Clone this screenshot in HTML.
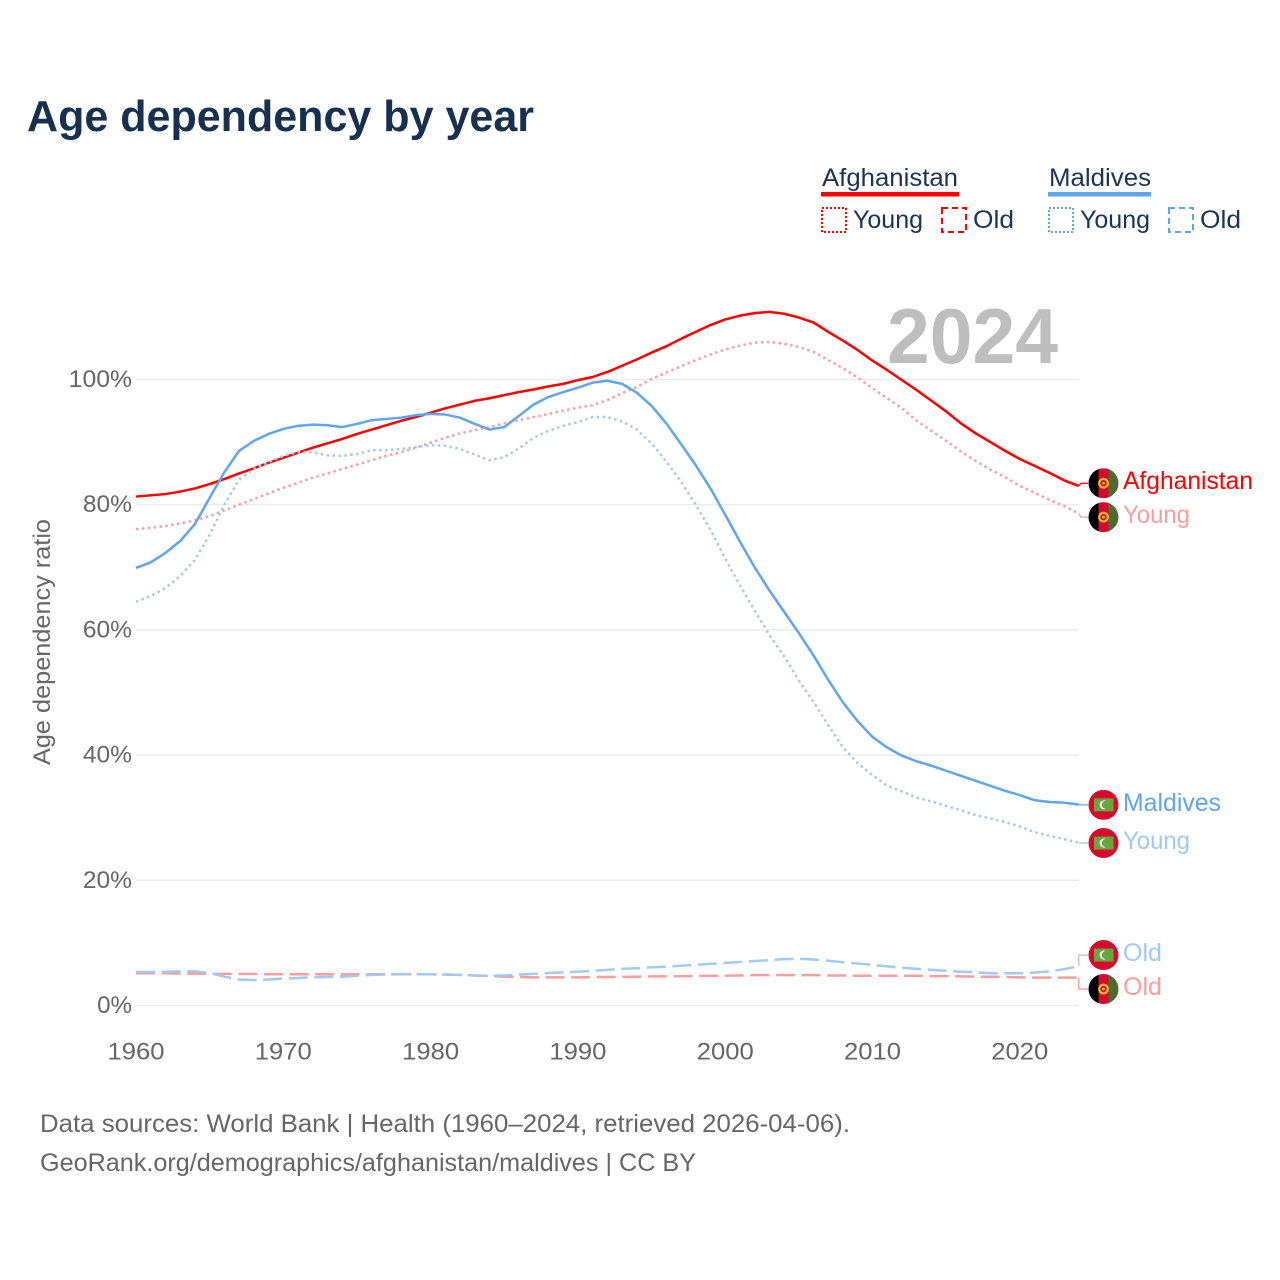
<!DOCTYPE html>
<html lang="en">
<head>
<meta charset="utf-8">
<title>Age dependency by year</title>
<style>
html,body{margin:0;padding:0;background:#fff;}
svg{display:block;}
text{font-family:"Liberation Sans",sans-serif;}
</style>
</head>
<body>
<svg id="chart" xmlns="http://www.w3.org/2000/svg" width="1280" height="1280" viewBox="0 0 1280 1280">
  <rect width="1280" height="1280" fill="#fff"/>
  <text x="27" y="131" font-size="44" font-weight="700" fill="#17304f" textLength="507" lengthAdjust="spacingAndGlyphs">Age dependency by year</text>

  <g font-size="25" fill="#1a3358">
    <g>
      <text x="822" y="186" textLength="136" lengthAdjust="spacingAndGlyphs">Afghanistan</text>
      <rect x="821" y="192" width="138" height="4.5" fill="#ff0000"/>
      <rect x="822" y="208" width="24" height="24" fill="none" stroke="#ff0000" stroke-width="2" stroke-dasharray="2 2"/>
      <text x="853" y="228" textLength="70" lengthAdjust="spacingAndGlyphs">Young</text>
      <rect x="942" y="208" width="24" height="24" fill="none" stroke="#ff0000" stroke-width="2" stroke-dasharray="6 4"/>
      <text x="973" y="228" textLength="41" lengthAdjust="spacingAndGlyphs">Old</text>
    </g>
    <g>
      <text x="1049" y="186" textLength="102" lengthAdjust="spacingAndGlyphs">Maldives</text>
      <rect x="1048" y="192" width="103" height="4.5" fill="#5fa5ee"/>
      <rect x="1049" y="208" width="24" height="24" fill="none" stroke="#5fa5ee" stroke-width="2" stroke-dasharray="2 2"/>
      <text x="1080" y="228" textLength="70" lengthAdjust="spacingAndGlyphs">Young</text>
      <rect x="1169" y="208" width="24" height="24" fill="none" stroke="#5fa5ee" stroke-width="2" stroke-dasharray="6 4"/>
      <text x="1200" y="228" textLength="41" lengthAdjust="spacingAndGlyphs">Old</text>
    </g>
  </g>

  <g id="grid"></g>
  <text x="887" y="363" font-size="78" font-weight="700" fill="#bebebe" textLength="171" lengthAdjust="spacingAndGlyphs">2024</text>
  <g id="ytick-labels"></g>
  <g id="xtick-labels"></g>
  <text transform="translate(50 765) rotate(-90)" font-size="24" fill="#666" textLength="246" lengthAdjust="spacingAndGlyphs">Age dependency ratio</text>
  <g id="series"></g>
  <g id="end-labels"></g>

  <g font-size="25" fill="#666">
    <text x="40" y="1132" textLength="810" lengthAdjust="spacingAndGlyphs">Data sources: World Bank | Health (1960–2024, retrieved 2026-04-06).</text>
    <text x="40" y="1171" textLength="656" lengthAdjust="spacingAndGlyphs">GeoRank.org/demographics/afghanistan/maldives | CC BY</text>
  </g>
</svg>

<script>
const firstYear = 1960;
const xTickYears = [1960, 1970, 1980, 1990, 2000, 2010, 2020];
const yTickValues = [0, 20, 40, 60, 80, 100];

const afghanistanTotal = [
  81.3, 81.5, 81.7, 82.1, 82.6, 83.3, 84.1, 85.0, 85.8, 86.7,
  87.5, 88.3, 89.1, 89.8, 90.5, 91.3, 92.0, 92.7, 93.4, 94.0,
  94.7, 95.4, 96.0, 96.6, 97.0, 97.5, 98.0, 98.4, 98.9, 99.3,
  99.9, 100.4, 101.2, 102.2, 103.2, 104.3, 105.3, 106.5, 107.6, 108.7,
  109.6, 110.2, 110.6, 110.8, 110.5, 109.9, 109.1, 107.6, 106.2, 104.7,
  103.0, 101.5, 99.9, 98.3, 96.6, 94.9, 93.0, 91.4, 90.0, 88.6,
  87.3, 86.2, 85.1, 83.9, 83.0
];
const afghanistanYoung = [
  76.1, 76.3, 76.6, 77.0, 77.5, 78.2, 79.1, 80.0, 80.9, 81.8,
  82.7, 83.5, 84.3, 85.0, 85.7, 86.4, 87.1, 87.8, 88.4, 89.1,
  89.9, 90.7, 91.4, 91.9, 92.4, 93.0, 93.5, 94.0, 94.5, 95.0,
  95.5, 95.9, 96.7, 97.8, 98.8, 100.1, 101.1, 102.1, 103.1, 104.0,
  104.8, 105.4, 105.9, 106.0, 105.7, 105.2, 104.4, 103.1, 101.8, 100.3,
  98.6, 97.0, 95.4, 93.4, 91.8, 90.2, 88.5, 87.0, 85.6, 84.4,
  83.0, 81.9, 80.8, 79.8, 78.6
];
const afghanistanOld = [
  5.15, 5.15, 5.15, 5.1, 5.1, 5.05, 5.05, 5.05, 5.05, 5.0,
  5.0, 5.0, 5.0, 5.0, 5.0, 5.0, 5.0, 5.0, 5.0, 5.0,
  5.0, 4.95, 4.9, 4.8, 4.7, 4.6, 4.55, 4.5, 4.5, 4.5,
  4.5, 4.55, 4.55, 4.6, 4.6, 4.65, 4.65, 4.7, 4.7, 4.75,
  4.75, 4.8, 4.85, 4.85, 4.85, 4.85, 4.85, 4.8, 4.8, 4.75,
  4.75, 4.75, 4.75, 4.75, 4.7, 4.7, 4.65, 4.6, 4.6, 4.55,
  4.5, 4.45, 4.45, 4.45, 4.45
];
const maldivesTotal = [
  69.9, 70.8, 72.3, 74.2, 76.9, 81.1, 85.2, 88.6, 90.2, 91.3,
  92.1, 92.6, 92.8, 92.7, 92.4, 92.9, 93.5, 93.7, 93.9, 94.3,
  94.5, 94.4, 93.9, 92.9, 92.0, 92.4, 94.2, 96.0, 97.2, 98.0,
  98.7, 99.5, 99.8, 99.3, 97.9, 95.8, 93.0, 89.7, 86.3, 82.6,
  78.4, 74.1, 70.0, 66.3, 62.9, 59.5, 55.9, 52.0, 48.4, 45.4,
  42.9, 41.2, 39.9, 39.0, 38.3, 37.5, 36.7, 35.9, 35.1, 34.3,
  33.6, 32.8, 32.5, 32.4, 32.1
];
const maldivesYoung = [
  64.5, 65.4, 66.7, 68.6, 71.2, 75.2, 80.0, 84.0, 85.7, 86.8,
  87.8, 88.4, 88.4, 87.9, 87.8, 88.1, 88.7, 88.7, 88.9, 89.2,
  89.5, 89.4, 88.9, 88.0, 87.1, 87.6, 89.0, 90.7, 91.8, 92.6,
  93.2, 94.0, 94.0, 93.3, 92.0, 89.8, 86.9, 83.7, 80.0, 76.0,
  71.4, 67.1, 63.1, 59.2, 55.8, 51.9, 48.5, 44.8, 41.2, 38.7,
  36.8, 35.1, 34.2, 33.2, 32.6, 31.9, 31.2, 30.4, 29.9, 29.3,
  28.6, 27.7, 27.1, 26.6, 26.0
];
const maldivesOld = [
  5.35, 5.35, 5.4, 5.45, 5.45, 5.2, 4.6, 4.15, 4.05, 4.15,
  4.3, 4.4, 4.5, 4.55, 4.6, 4.75, 4.9, 4.95, 5.0, 5.0,
  5.0, 4.95, 4.9, 4.8, 4.75, 4.8, 4.95, 5.05, 5.2, 5.3,
  5.4, 5.55, 5.7, 5.85, 5.95, 6.1, 6.2, 6.35, 6.5, 6.65,
  6.8, 6.95, 7.1, 7.25, 7.4, 7.45, 7.35, 7.15, 6.9, 6.7,
  6.5, 6.25, 6.05, 5.85, 5.7, 5.55, 5.4, 5.3, 5.15, 5.15,
  5.15, 5.25, 5.45, 5.8, 6.3
];

const NS = 'http://www.w3.org/2000/svg';
const xScale = year => 136 + (year - firstYear) * (1078.7 - 136) / 64;
const yScale = value => 1005.5 - value * 6.26;

function make(tag, attrs, parent) {
  const el = document.createElementNS(NS, tag);
  for (const k in attrs) el.setAttribute(k, attrs[k]);
  parent.appendChild(el);
  return el;
}

const gridGroup = document.getElementById('grid');
const yLabelGroup = document.getElementById('ytick-labels');
yTickValues.forEach(v => {
  const line = make('line', {x1: 136, x2: 1078.7, y1: yScale(v), y2: yScale(v), stroke: '#ececec', 'stroke-width': 1.5}, gridGroup);
  
  
  const w = (String(v).length + 1) * 14.2 + 6.5;
  const label = make('text', {x: 132, y: yScale(v) + 7.5, 'text-anchor': 'end', 'font-size': 24, fill: '#666', textLength: w, lengthAdjust: 'spacingAndGlyphs'}, yLabelGroup);
  label.textContent = v + '%';
  
  
});

const xLabelGroup = document.getElementById('xtick-labels');
xTickYears.forEach(year => {
  const label = make('text', {x: xScale(year), y: 1059.5, 'text-anchor': 'middle', 'font-size': 24, fill: '#666', textLength: 57, lengthAdjust: 'spacingAndGlyphs'}, xLabelGroup);
  label.textContent = year;
  
  
});

const seriesGroup = document.getElementById('series');
const labelGroup = document.getElementById('end-labels');

function drawFlag(kind, cx, cy, parent, id) {
  const g = make('g', {}, parent);
  
  
  const clip = make('clipPath', {id: id}, g);
  make('circle', {cx: cx, cy: cy, r: 15}, clip);
  const inner = make('g', {'clip-path': 'url(#' + id + ')'}, g);
  if (kind === 'afghanistan') {
    make('rect', {x: cx - 15, y: cy - 15, width: 10, height: 30, fill: '#000'}, inner);
    make('rect', {x: cx - 5, y: cy - 15, width: 10, height: 30, fill: '#d60a2e'}, inner);
    make('rect', {x: cx + 5, y: cy - 15, width: 10, height: 30, fill: '#4d6b2e'}, inner);
    make('circle', {cx: cx, cy: cy, r: 4.3, fill: 'none', stroke: '#f0b92c', 'stroke-width': 2.2}, inner);
    make('circle', {cx: cx, cy: cy, r: 1.4, fill: '#f0b92c'}, inner);
  } else {
    make('rect', {x: cx - 15, y: cy - 15, width: 30, height: 30, fill: '#d8082f'}, inner);
    make('rect', {x: cx - 9.5, y: cy - 6.5, width: 19.5, height: 13, fill: '#6ba53f'}, inner);
    make('circle', {cx: cx + 0.5, cy: cy, r: 4.5, fill: '#f2f2f2'}, inner);
    make('circle', {cx: cx + 2.3, cy: cy, r: 4, fill: '#6ba53f'}, inner);
  }
}

function drawSeries(values, name, color, width, dash) {
  const d = values.map((v, i) => (i ? 'L' : 'M') + xScale(firstYear + i).toFixed(2) + ' ' + yScale(v).toFixed(2)).join('');
  const attrs = {d: d, fill: 'none', stroke: color, 'stroke-width': width, 'stroke-linejoin': 'round'};
  if (dash) attrs['stroke-dasharray'] = dash;
  const path = make('path', attrs, seriesGroup);
  
  
}

function drawEndLabel(values, name, text, color, kind, shift, textWidth) {
  const endY = yScale(values[values.length - 1]);
  const labelY = endY + shift;
  const elbow = Math.abs(shift) > 5 ? 1078.7 : 1081;
  const connector = make('path', {d: 'M1078.7 ' + endY.toFixed(2) + 'L' + elbow + ' ' + labelY.toFixed(2) + 'L1088 ' + labelY.toFixed(2), fill: 'none', stroke: color, 'stroke-width': 1.3}, labelGroup);
  
  
  drawFlag(kind, 1103.5, labelY, labelGroup, name + '-clip');
  const label = make('text', {x: 1123, y: labelY + 6, 'font-size': 25, fill: color, textLength: textWidth, lengthAdjust: 'spacingAndGlyphs'}, labelGroup);
  label.textContent = text;
  
  
}

const red = '#ff0000', redFade = '#ff9c9c', blue = '#5fa5ee', blueFade = '#a2c9f4';
const dotted = '2.5 3.4', dashed = '19 6.6';

drawSeries(afghanistanYoung, 'afghanistan-young', redFade, 2.5, dotted);
drawSeries(afghanistanOld, 'afghanistan-old', redFade, 2.5, dashed);
drawSeries(afghanistanTotal, 'afghanistan-total', red, 2.5, null);
drawSeries(maldivesYoung, 'maldives-young', blueFade, 2.5, dotted);
drawSeries(maldivesOld, 'maldives-old', blueFade, 2.5, dashed);
drawSeries(maldivesTotal, 'maldives-total', blue, 2.5, null);

drawEndLabel(afghanistanTotal, 'afghanistan-total', 'Afghanistan', red, 'afghanistan', -2.7, 130);
drawEndLabel(afghanistanYoung, 'afghanistan-young', 'Young', redFade, 'afghanistan', 3.7, 67);
drawEndLabel(maldivesTotal, 'maldives-total', 'Maldives', blue, 'maldives', 0.3, 98);
drawEndLabel(maldivesYoung, 'maldives-young', 'Young', blueFade, 'maldives', 0.3, 67);
drawEndLabel(maldivesOld, 'maldives-old', 'Old', blueFade, 'maldives', -11, 39);
drawEndLabel(afghanistanOld, 'afghanistan-old', 'Old', redFade, 'afghanistan', 11.4, 39);
</script>
</body>
</html>
